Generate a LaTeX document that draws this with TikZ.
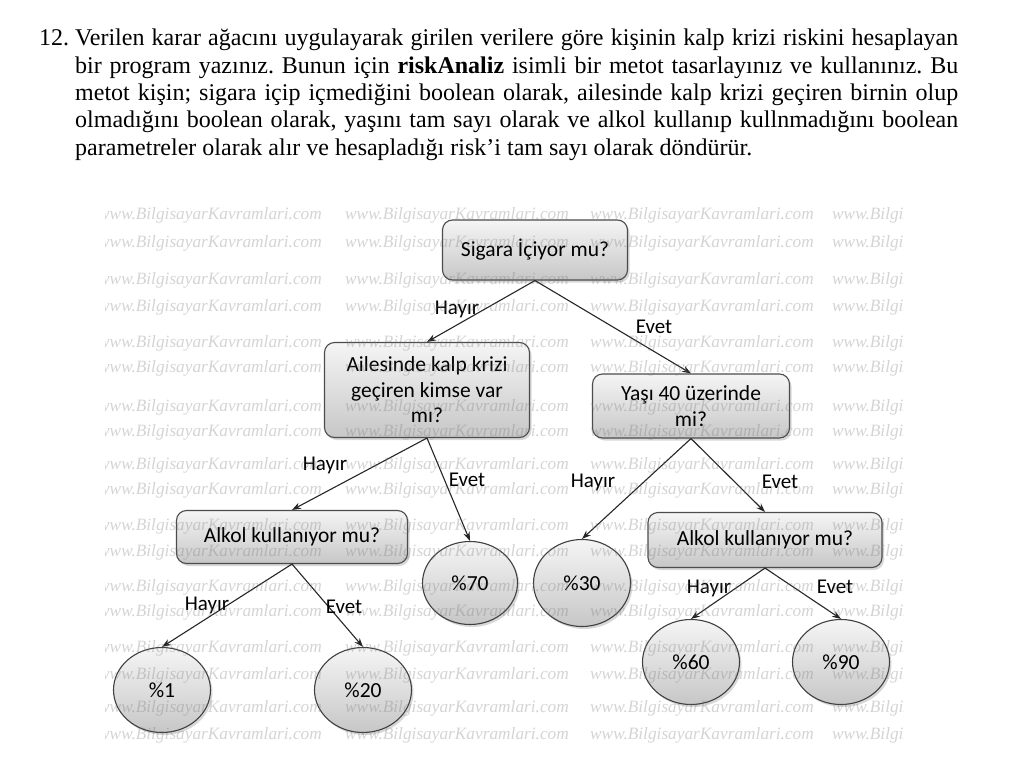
\documentclass[tikz,border=0pt]{standalone}
\usepackage{fontspec}
\setmainfont{Liberation Serif}
\newfontfamily\calfont{Carlito}
\usetikzlibrary{shadows,arrows.meta,shapes.geometric}
\begin{document}
\begin{tikzpicture}[x=1pt,y=-1pt,
  qbox/.style={draw=black!70, line width=1.1pt, rounded corners=10pt,
    top color=black!4, bottom color=black!22,
    drop shadow={shadow xshift=2pt, shadow yshift=-2.5pt, opacity=0.3},
    font=\calfont\fontsize{21.5}{25.5}\selectfont, align=center, inner sep=2pt},
  leaf/.style={ellipse, draw=black!75, line width=1.1pt,
    top color=black!4, bottom color=black!22,
    drop shadow={shadow xshift=2pt, shadow yshift=-2.5pt, opacity=0.3},
    font=\calfont\fontsize{21.5}{25.5}\selectfont, minimum width=97pt, minimum height=85pt, inner sep=0pt},
  arr/.style={draw=black!85, line width=1.1pt, -{Stealth[length=9pt,width=6.5pt]}},
  lbl/.style={font=\calfont\fontsize{21}{24}\selectfont, inner sep=0pt},
  ptext/.style={font=\fontsize{24}{27.3}\selectfont\frenchspacing, inner sep=0pt},
  wm/.style={font=\fontsize{17.3}{20}\selectfont\itshape, text=black!55, opacity=0.3, inner sep=0pt, anchor=west}
]
\useasboundingbox (0,0) rectangle (1012,768);
\fill[white] (0,0) rectangle (1012,768);

\node[ptext, anchor=base west] (num) at (39,45.5) {12.};
\node[ptext, anchor=north west, text width=883pt, align=justify] (para) at (75,29)
  {Verilen karar ağacını uygulayarak girilen verilere göre kişinin kalp krizi riskini hesaplayan\linebreak{} bir program yazınız. Bunun için \textbf{riskAnaliz} isimli bir metot tasarlayınız ve kullanınız. Bu\linebreak{} metot kişin; sigara içip içmediğini boolean olarak, ailesinde kalp krizi geçiren birnin olup\linebreak{} olmadığını boolean olarak, yaşını tam sayı olarak ve alkol kullanıp kullnmadığını boolean\linebreak{} parametreler olarak alır ve hesapladığı risk’i tam sayı olarak döndürür.};

\node[qbox, minimum width=185pt, minimum height=60pt] (sig) at (535,250) {Sigara İçiyor mu?};
\node[qbox, minimum width=205pt, minimum height=95pt] (ail) at (427,390) {Ailesinde kalp krizi\\geçiren kimse var\\mı?};
\node[qbox, minimum width=197pt, minimum height=64pt] (yas) at (691,406) {Yaşı 40 üzerinde\\mi?};
\node[qbox, minimum width=231pt, minimum height=53pt] (alkL) at (292,537) {Alkol kullanıyor mu?};
\node[qbox, minimum width=234pt, minimum height=55pt] (alkR) at (765,540) {Alkol kullanıyor mu?};
\node[leaf, minimum width=95pt, minimum height=83pt] (p70) at (470,583) {\%70};
\node[leaf, minimum height=87pt] (p30) at (582,583) {\%30};
\node[leaf] (p1) at (162,690) {\%1};
\node[leaf] (p20) at (363,690) {\%20};
\node[leaf] (p60) at (691,662) {\%60};
\node[leaf] (p90) at (841,662) {\%90};

\draw[arr] (sig.south) -- (ail.north);
\draw[arr] (sig.south) -- (yas.north);
\draw[arr] (ail.south) -- (alkL.north);
\draw[arr] (ail.south) -- (p70.north);
\draw[arr] (yas.south) -- (p30.north);
\draw[arr] (yas.south) -- (alkR.north);
\draw[arr] (alkL.south) -- (p1.north);
\draw[arr] (alkL.south) -- (p20.north);
\draw[arr] (alkR.south) -- (p60.north);
\draw[arr] (alkR.south) -- (p90.north);

\node[lbl] (l1) at (457,309) {Hayır};
\node[lbl] (l2) at (654,327) {Evet};
\node[lbl] (l3) at (325,465) {Hayır};
\node[lbl] (l4) at (467,480) {Evet};
\node[lbl] (l5) at (593,482) {Hayır};
\node[lbl] (l6) at (780,482) {Evet};
\node[lbl] (l7) at (207,605) {Hayır};
\node[lbl] (l8) at (344,607) {Evet};
\node[lbl] (l9) at (709,588) {Hayır};
\node[lbl] (l10) at (835,587) {Evet};

\begin{scope}
\clip (105,200) rectangle (903,745);
\foreach \yy in {215,243,280,307,343,368,407,432,465,490,526,552,587,612,648,675,708,735}
  \foreach \xx in {98,345,590,832}
    \node[wm] at (\xx,\yy) {www.BilgisayarKavramlari.com};
\end{scope}
\end{tikzpicture}
\end{document}
